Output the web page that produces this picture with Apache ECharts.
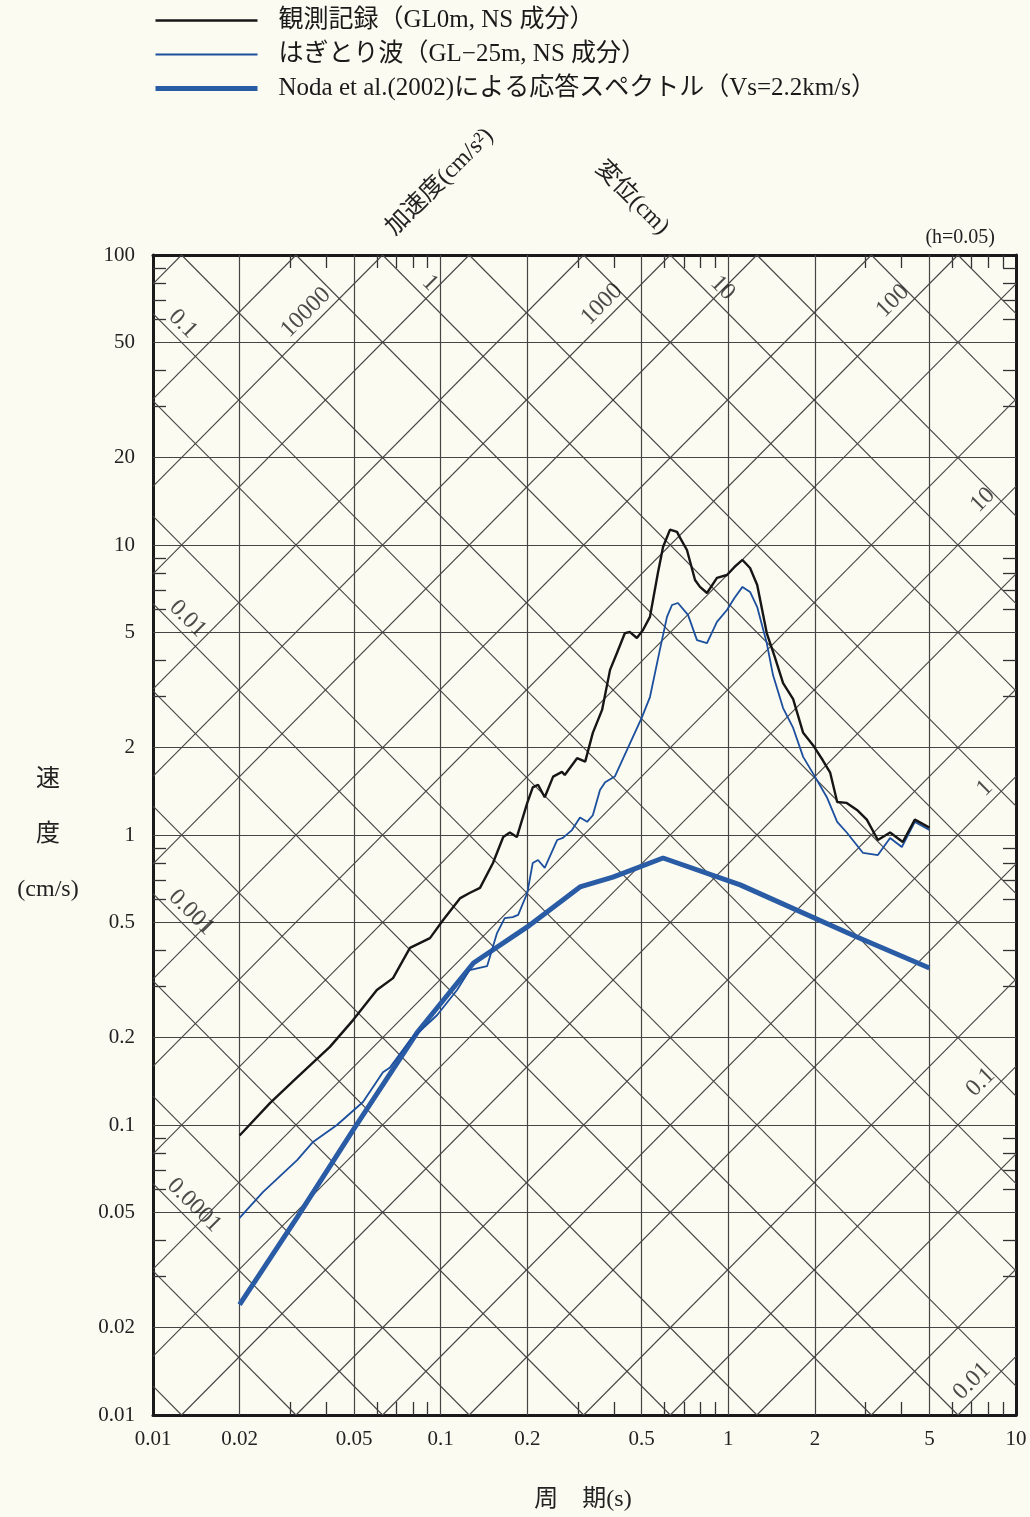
<!DOCTYPE html>
<html>
<head>
<meta charset="utf-8">
<title>応答スペクトル</title>
<script src="https://cdn.jsdelivr.net/npm/echarts@6/dist/echarts.min.js"></script>
<style>
    html, body { margin: 0; padding: 0; background: #fbfbf1; }
    #chart { width: 1030px; height: 1517px; }
</style>
</head>
<body>
<div id="chart"></div>
<script>
// tick values (period s / velocity cm/s)
var periodTicks = [0.01, 0.02, 0.05, 0.1, 0.2, 0.5, 1, 2, 5, 10];
var periodMinor = [0.03, 0.04, 0.06, 0.07, 0.08, 0.09, 0.3, 0.4, 0.6, 0.7, 0.8, 0.9, 3, 4, 6, 7, 8, 9];
var velTicks = [0.01, 0.02, 0.05, 0.1, 0.2, 0.5, 1, 2, 5, 10, 20, 50, 100];
var velMinor = [0.03, 0.04, 0.06, 0.07, 0.08, 0.09, 0.3, 0.4, 0.6, 0.7, 0.8, 0.9,
    3, 4, 6, 7, 8, 9, 30, 40, 60, 70, 80, 90];

// tripartite diagonal grid: displacement (cm) and acceleration (cm/s2)
var dispGrid = [1e-5, 2e-5, 5e-5, 1e-4, 2e-4, 5e-4, 0.001, 0.002, 0.005, 0.01, 0.02, 0.05,
    0.1, 0.2, 0.5, 1, 2, 5, 10, 20, 50, 100, 200];
var accGrid = [0.005, 0.01, 0.02, 0.05, 0.1, 0.2, 0.5, 1, 2, 5, 10, 20, 50, 100, 200, 500,
    1000, 2000, 5000, 10000, 20000, 50000, 100000];
var dispLabels = ['0.1', '0.01', '0.001', '0.0001', '1', '10'];
var dispLabelAt = [0.0127, 0.0132, 0.0136, 0.0139, 0.0918, 0.955];   // period where label sits
var accLabels = ['10000', '1000', '100', '10', '1', '0.1', '0.01'];
var accLabelAt = [0.034, 0.3635, 3.73, 7.67, 7.79, 7.54, 7.03];

// 観測記録 (GL0m, NS)
var obsPeriod = [0.020, 0.0255, 0.0317, 0.0412, 0.0496, 0.060, 0.0683, 0.0782, 0.0918, 0.102,
    0.117, 0.126, 0.137, 0.152, 0.165, 0.174, 0.184, 0.200, 0.209, 0.218,
    0.230, 0.246, 0.264, 0.270, 0.298, 0.318, 0.338, 0.364, 0.388, 0.410,
    0.437, 0.455, 0.481, 0.505, 0.534, 0.569, 0.593, 0.627, 0.663, 0.679,
    0.718, 0.766, 0.797, 0.843, 0.913, 0.989, 1.05, 1.12, 1.19, 1.26,
    1.36, 1.45, 1.55, 1.68, 1.82, 1.97, 2.13, 2.26, 2.39, 2.58,
    2.80, 3.03, 3.31, 3.65, 4.04, 4.45, 5.0];
var obsVel = [0.092, 0.119, 0.146, 0.186, 0.230, 0.292, 0.321, 0.408, 0.441, 0.509,
    0.606, 0.631, 0.657, 0.801, 0.984, 1.02, 0.984, 1.29, 1.46, 1.49,
    1.35, 1.59, 1.65, 1.61, 1.84, 1.79, 2.25, 2.70, 3.71, 4.24,
    4.97, 5.01, 4.78, 5.09, 5.65, 8.01, 9.84, 11.3, 11.1, 10.6,
    9.61, 7.57, 7.17, 6.83, 7.70, 7.88, 8.40, 8.88, 8.33, 7.28,
    4.97, 4.11, 3.34, 2.94, 2.25, 2.04, 1.81, 1.64, 1.30, 1.29,
    1.22, 1.13, 0.961, 1.02, 0.946, 1.13, 1.06];

// はぎとり波 (GL-25m, NS)
var stripPeriod = [0.020, 0.0241, 0.0317, 0.0360, 0.0436, 0.0537, 0.0630, 0.0667, 0.0782, 0.0971,
    0.114, 0.126, 0.145, 0.157, 0.167, 0.178, 0.186, 0.200, 0.209, 0.218,
    0.230, 0.254, 0.266, 0.286, 0.305, 0.323, 0.338, 0.358, 0.373, 0.403,
    0.444, 0.501, 0.534, 0.578, 0.612, 0.637, 0.668, 0.724, 0.778, 0.843,
    0.913, 0.989, 1.05, 1.12, 1.19, 1.26, 1.36, 1.43, 1.55, 1.68,
    1.82, 2.00, 2.20, 2.39, 2.58, 2.94, 3.31, 3.65, 4.01, 4.45, 5.0];
var stripVel = [0.0478, 0.0587, 0.0757, 0.0874, 0.100, 0.120, 0.152, 0.158, 0.196, 0.239,
    0.292, 0.342, 0.353, 0.459, 0.517, 0.521, 0.530, 0.631, 0.801, 0.820,
    0.770, 0.961, 0.977, 1.04, 1.15, 1.11, 1.17, 1.43, 1.52, 1.59,
    1.96, 2.55, 2.99, 4.35, 5.65, 6.21, 6.31, 5.74, 4.70, 4.59,
    5.43, 5.97, 6.56, 7.17, 6.89, 6.11, 4.59, 3.56, 2.74, 2.34,
    1.86, 1.59, 1.35, 1.11, 1.02, 0.867, 0.853, 0.977, 0.909, 1.11, 1.04];

// Noda et al.(2002)
var nodaPeriod = [0.020, 0.0317, 0.0496, 0.0827, 0.130, 0.200, 0.305, 0.397, 0.593, 1.10, 2.80, 5.0];
var nodaVel = [0.024, 0.048, 0.096, 0.208, 0.362, 0.482, 0.662, 0.716, 0.833, 0.673, 0.445, 0.348];

var SERIF = '"Liberation Serif", "DejaVu Serif", "Noto Sans CJK JP", serif';
var GRID_COLOR = '#454545';
var X_MIN = -2, X_MAX = 1, Y_MIN = -2, Y_MAX = 2;   // log10 extents
var LABEL_LIFT = 0.068;                             // label offset above its line (decades)
var TWO_PI = 2 * Math.PI;
var lg = Math.log10;

function toXY(periods, vels) {
    return periods.map(function (t, i) { return [lg(t), lg(vels[i])]; });
}
function fmtLog(v) {
    return String(parseFloat(Math.pow(10, v).toPrecision(3)));
}
// Sv = 2*pi*D / T
function dispSegment(d) {
    var c = lg(TWO_PI * d);
    var x1 = Math.max(X_MIN, c - Y_MAX), x2 = Math.min(X_MAX, c - Y_MIN);
    return x2 > x1 ? [[x1, c - x1], [x2, c - x2]] : null;
}
// Sv = A * T / (2*pi)
function accSegment(a) {
    var k = lg(a / TWO_PI);
    var x1 = Math.max(X_MIN, Y_MIN - k), x2 = Math.min(X_MAX, Y_MAX - k);
    return x2 > x1 ? [[x1, x1 + k], [x2, x2 + k]] : null;
}

var gridLines = [];
periodTicks.slice(1, -1).forEach(function (t) {
    gridLines.push({ coords: [[lg(t), Y_MIN], [lg(t), Y_MAX]] });
});
velTicks.slice(1, -1).forEach(function (v) {
    gridLines.push({ coords: [[X_MIN, lg(v)], [X_MAX, lg(v)]] });
});
var diagLines = [];
dispGrid.forEach(function (d) {
    var s = dispSegment(d);
    if (s) diagLines.push({ coords: s });
});
accGrid.forEach(function (a) {
    var s = accSegment(a);
    if (s) diagLines.push({ coords: s });
});

var dispLabelData = dispLabels.map(function (name, i) {
    var x = lg(dispLabelAt[i]);
    return { name: name, value: [x, lg(TWO_PI * parseFloat(name)) - x + LABEL_LIFT] };
});
var accLabelData = accLabels.map(function (name, i) {
    var x = lg(accLabelAt[i]);
    return { name: name, value: [x, x + lg(parseFloat(name) / TWO_PI) + LABEL_LIFT] };
});

function makeXAxis(pos, showLabel) {
    return {
        type: 'value', min: X_MIN, max: X_MAX, position: pos,
        axisLine: { show: true, onZero: false, lineStyle: { color: '#1a1a1a', width: 3 } },
        axisTick: {
            show: true, inside: true, length: 13,
            customValues: periodMinor.map(lg),
            lineStyle: { color: '#333', width: 1.3 }
        },
        axisLabel: {
            show: showLabel, customValues: periodTicks.map(lg), formatter: fmtLog,
            margin: 14, fontSize: 21, color: '#222', fontFamily: SERIF
        },
        splitLine: { show: false }
    };
}
function makeYAxis(pos, showLabel) {
    return {
        type: 'value', min: Y_MIN, max: Y_MAX, position: pos,
        axisLine: { show: true, onZero: false, lineStyle: { color: '#1a1a1a', width: 3 } },
        axisTick: {
            show: true, inside: true, length: 13,
            customValues: velMinor.map(lg),
            lineStyle: { color: '#333', width: 1.3 }
        },
        axisLabel: {
            show: showLabel, customValues: velTicks.map(lg), formatter: fmtLog,
            margin: 18, fontSize: 21, color: '#222', fontFamily: SERIF
        },
        splitLine: { show: false }
    };
}

var chart = echarts.init(document.getElementById('chart'), null, { renderer: 'canvas' });
var option = {
    backgroundColor: '#fbfbf1',
    animation: false,
    textStyle: { fontFamily: SERIF },
    grid: { left: 153, top: 255, right: 14, bottom: 102, containLabel: false },
    legend: {
        orient: 'vertical', left: 153, top: 7,
        itemWidth: 102, itemHeight: 14, itemGap: 7, padding: 0,
        itemStyle: { opacity: 0 },
        lineStyle: { width: 'inherit' },
        data: ['観測記録（GL0m, NS 成分）', 'はぎとり波（GL−25m, NS 成分）',
            'Noda et al.(2002)による応答スペクトル（Vs=2.2km/s）'],
        textStyle: { fontSize: 25, color: '#1a1a1a', fontFamily: SERIF, lineHeight: 27, padding: [0, 0, 0, 16] }
    },
    xAxis: [makeXAxis('bottom', true), makeXAxis('top', false)],
    yAxis: [makeYAxis('left', true), makeYAxis('right', false)],
    graphic: [
        { type: 'text', x: 995, y: 238, style: { text: '(h=0.05)', font: '20px ' + SERIF, fill: '#222', align: 'right', verticalAlign: 'middle' } },
        { type: 'text', x: 440, y: 182, rotation: Math.PI / 4, style: { text: '加速度(cm/s²)', font: '24px ' + SERIF, fill: '#222', align: 'center', verticalAlign: 'middle' } },
        { type: 'text', x: 632, y: 198, rotation: -Math.PI / 4, style: { text: '変位(cm)', font: '24px ' + SERIF, fill: '#222', align: 'center', verticalAlign: 'middle' } },
        { type: 'text', x: 48, y: 780, style: { text: '速', font: '24px ' + SERIF, fill: '#222', align: 'center', verticalAlign: 'middle' } },
        { type: 'text', x: 48, y: 835, style: { text: '度', font: '24px ' + SERIF, fill: '#222', align: 'center', verticalAlign: 'middle' } },
        { type: 'text', x: 48, y: 890, style: { text: '(cm/s)', font: '24px ' + SERIF, fill: '#222', align: 'center', verticalAlign: 'middle' } },
        { type: 'text', x: 583, y: 1500, style: { text: '周　期(s)', font: '24px ' + SERIF, fill: '#222', align: 'center', verticalAlign: 'middle' } }
    ],
    series: [
        {
            type: 'lines', coordinateSystem: 'cartesian2d', silent: true, z: 1,
            data: gridLines,
            lineStyle: { color: GRID_COLOR, width: 1.2, opacity: 1, curveness: 0 }
        },
        {
            type: 'lines', coordinateSystem: 'cartesian2d', silent: true, z: 1,
            data: diagLines,
            lineStyle: { color: GRID_COLOR, width: 1.1, opacity: 1, curveness: 0 }
        },
        {
            type: 'scatter', silent: true, z: 2, symbolSize: 1,
            itemStyle: { color: 'rgba(0,0,0,0)' },
            data: dispLabelData,
            label: { show: true, position: 'inside', formatter: '{b}', rotate: -45, fontSize: 24, color: '#1e1e1e', fontFamily: SERIF }
        },
        {
            type: 'scatter', silent: true, z: 2, symbolSize: 1,
            itemStyle: { color: 'rgba(0,0,0,0)' },
            data: accLabelData,
            label: { show: true, position: 'inside', formatter: '{b}', rotate: 45, fontSize: 24, color: '#1e1e1e', fontFamily: SERIF }
        },
        {
            name: 'Noda et al.(2002)による応答スペクトル（Vs=2.2km/s）',
            type: 'line', symbol: 'none', z: 3,
            data: toXY(nodaPeriod, nodaVel),
            lineStyle: { color: '#2a5ca6', width: 5 },
            itemStyle: { color: '#2a5ca6' }
        },
        {
            name: 'はぎとり波（GL−25m, NS 成分）',
            type: 'line', symbol: 'none', z: 4,
            data: toXY(stripPeriod, stripVel),
            lineStyle: { color: '#1c4f9e', width: 1.8 },
            itemStyle: { color: '#1c4f9e' }
        },
        {
            name: '観測記録（GL0m, NS 成分）',
            type: 'line', symbol: 'none', z: 5,
            data: toXY(obsPeriod, obsVel),
            lineStyle: { color: '#161616', width: 2.4 },
            itemStyle: { color: '#161616' }
        }
    ]
};
chart.setOption(option);
</script>
</body>
</html>
